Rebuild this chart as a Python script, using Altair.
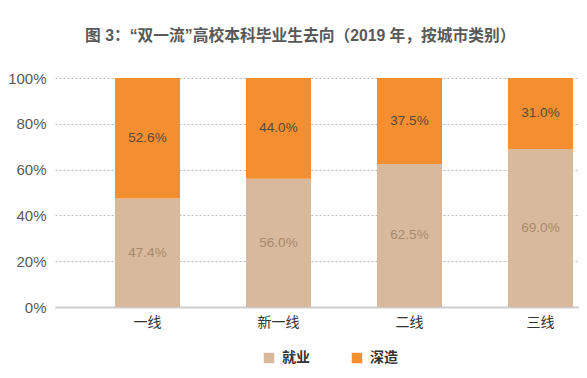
import altair as alt
import pandas as pd

cities = ["一线", "新一线", "二线", "三线"]
employ = [47.4, 56.0, 62.5, 69.0]   # 就业
study = [52.6, 44.0, 37.5, 31.0]    # 深造
series = ["就业", "深造"]
colors = ["#D9B99B", "#F38E31"]
label_colors = ["#A68A6C", "#5A4A3C"]
title = "图 3：“双一流”高校本科毕业生去向（2019 年，按城市类别）"

rows = []
for i, c in enumerate(cities):
    rows.append({"city": c, "series": series[0], "value": employ[i], "ord": 0})
    rows.append({"city": c, "series": series[1], "value": study[i], "ord": 1})
df = pd.DataFrame(rows)

FONT = "Liberation Sans, Noto Sans CJK SC, sans-serif"

base = alt.Chart(df).transform_stack(
    stack="value", groupby=["city"], as_=["y0", "y1"], sort=[alt.SortField("ord")]
).transform_calculate(
    mid="(datum.y0 + datum.y1) / 2",
    lab="format(datum.value, '.1f') + '%'"
)

xenc = alt.X(
    "city:N", sort=cities, title=None,
    scale=alt.Scale(paddingInner=0.5038, paddingOuter=0.2519, align=0.909),
    axis=alt.Axis(labelAngle=0, labelFontSize=14, labelColor="#333333", labelFont=FONT,
                  ticks=False, domainColor="#CCCCCC", domainWidth=2, labelPadding=8),
)

bars = base.mark_bar().encode(
    x=xenc,
    y=alt.Y("y0:Q", title=None, scale=alt.Scale(domain=[0, 100]),
            axis=alt.Axis(values=[0, 20, 40, 60, 80, 100], labelExpr="datum.value + '%'",
                          labelFontSize=15, labelColor="#595959", labelFont=FONT,
                          ticks=False, domain=False, labelPadding=9,
                          grid=True, gridDash=[2, 2], gridColor="#BBBBBB", gridWidth=1)),
    y2="y1:Q",
    color=alt.Color("series:N", scale=alt.Scale(domain=series, range=colors),
                    legend=alt.Legend(title=None, orient="none", direction="horizontal",
                                      legendX=207, legendY=273, symbolType="square",
                                      symbolSize=110, symbolStrokeWidth=0, labelFontSize=14,
                                      labelFontWeight="bold", labelColor="#333333", labelFont=FONT,
                                      labelOffset=6, columnPadding=40)),
)

texts = base.mark_text(fontSize=13.5, font=FONT).encode(
    x=alt.X("city:N", sort=cities),
    y=alt.Y("mid:Q"),
    text="lab:N",
    color=alt.Color("series:N", scale=alt.Scale(domain=series, range=label_colors), legend=None),
)

chart = alt.layer(bars, texts).resolve_scale(color="independent").properties(
    width=524, height=229,
    autosize=alt.AutoSizeParams(type="none"),
    padding={"left": 47, "top": 70, "right": 0, "bottom": 62},
    title=alt.TitleParams(text=title, anchor="start", frame="group", dx=30, offset=19,
                          baseline="middle", fontSize=15.75, fontWeight="bold",
                          color="#595959", font=FONT),
).configure_view(stroke=None)

chart.save("out.html", embed_options={"renderer": "svg", "actions": False})
